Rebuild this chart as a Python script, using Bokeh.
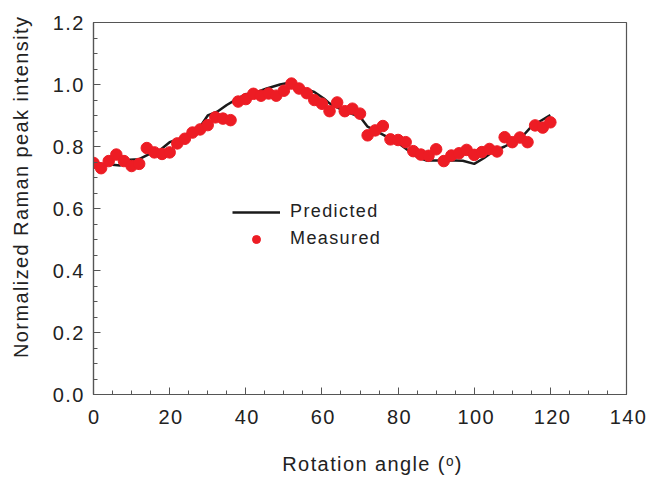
from bokeh.plotting import figure
from bokeh.models import (Range1d, Legend, LegendItem, FixedTicker, PrintfTickFormatter,
                          InlineStyleSheet)
from bokeh.embed import file_html
from bokeh.resources import INLINE

# Measured data (every 2 degrees)
meas_angle = list(range(0, 122, 2))
meas_intensity = [0.747, 0.730, 0.753, 0.774, 0.753, 0.737, 0.744, 0.795, 0.781, 0.776,
                  0.781, 0.810, 0.825, 0.845, 0.855, 0.869, 0.894, 0.890, 0.885, 0.945,
                  0.953, 0.970, 0.964, 0.971, 0.964, 0.980, 1.003, 0.987, 0.972, 0.950,
                  0.938, 0.914, 0.942, 0.914, 0.922, 0.906, 0.836, 0.852, 0.866, 0.823,
                  0.821, 0.814, 0.785, 0.774, 0.770, 0.791, 0.753, 0.771, 0.778, 0.789,
                  0.773, 0.782, 0.792, 0.784, 0.830, 0.814, 0.829, 0.814, 0.868, 0.861,
                  0.878]

# Predicted curve
pred_angle = [0, 2, 5, 7, 9.5, 12, 15, 17.5, 20, 23, 25.5, 28, 30, 32.5, 35, 37.5, 40, 43,
              45.5, 49, 51, 53, 55, 58, 60.5, 62, 65, 67.5, 70, 72, 74.5, 77, 80, 82.5, 85,
              87.5, 91, 95, 97, 100, 102.5, 105, 108, 110.5, 113, 115, 117.5, 120]
pred_intensity = [0.755, 0.743, 0.741, 0.739, 0.757, 0.759, 0.778, 0.789, 0.814, 0.827,
                  0.848, 0.864, 0.900, 0.912, 0.934, 0.952, 0.969, 0.976, 0.987, 1.000,
                  1.005, 1.004, 0.987, 0.976, 0.955, 0.939, 0.920, 0.907, 0.896, 0.864,
                  0.848, 0.832, 0.811, 0.789, 0.766, 0.755, 0.755, 0.755, 0.754, 0.744,
                  0.762, 0.784, 0.800, 0.816, 0.837, 0.864, 0.883, 0.901]

x_major = [0, 20, 40, 60, 80, 100, 120, 140]
x_minor = list(range(0, 141, 5))
y_major = [0.0, 0.2, 0.4, 0.6, 0.8, 1.0, 1.2]
y_minor = [round(i * 0.05, 2) for i in range(25)]

x_label = "Rotation angle (\u1d52)"
y_label = "Normalized Raman peak intensity"

FONT = "Liberation Sans"
TXT = "#222222"
AX = "#555555"

p = figure(frame_width=533, frame_height=372, output_backend="svg", toolbar_location=None,
           x_range=Range1d(0, 140), y_range=Range1d(0, 1.2),
           min_border_left=93, min_border_right=20, min_border_top=22, min_border_bottom=85)
p.stylesheets = [InlineStyleSheet(css=":host { letter-spacing: 1.4px; }")]
p.grid.visible = False
p.outline_line_color = AX
p.outline_line_width = 1.2

line_r = p.line(pred_angle, pred_intensity, line_color="#1a1a1a", line_width=2.5)
pts_r = p.scatter(meas_angle, meas_intensity, size=11.5, fill_color="#ED1C24",
                  line_color="#ED1C24")

p.xaxis.ticker = FixedTicker(ticks=x_major, minor_ticks=x_minor)
p.yaxis.ticker = FixedTicker(ticks=y_major, minor_ticks=y_minor)
p.yaxis.formatter = PrintfTickFormatter(format="%.1f")

for ax in (p.xaxis, p.yaxis):
    ax.axis_line_color = AX
    ax.axis_line_width = 1.2
    ax.major_tick_line_color = AX
    ax.minor_tick_line_color = AX
    ax.major_tick_out = 0
    ax.major_tick_in = 7
    ax.minor_tick_out = 0
    ax.minor_tick_in = 4
    ax.major_label_text_font = FONT
    ax.major_label_text_font_size = "20px"
    ax.major_label_text_color = TXT
    ax.axis_label_text_font = FONT
    ax.axis_label_text_font_size = "20px"
    ax.axis_label_text_font_style = "normal"
    ax.axis_label_text_color = TXT

p.xaxis.axis_label = x_label
p.yaxis.axis_label = y_label
p.xaxis.major_label_standoff = 15
p.yaxis.major_label_standoff = 13
p.xaxis.axis_label_standoff = 26
p.yaxis.axis_label_standoff = 18

legend = Legend(items=[LegendItem(label="Predicted", renderers=[line_r]),
                       LegendItem(label="Measured", renderers=[pts_r])],
                location=(139, 145), glyph_width=48, glyph_height=20, label_height=20,
                label_standoff=10, spacing=6, padding=0, margin=0,
                border_line_alpha=0, background_fill_alpha=0,
                label_text_font=FONT, label_text_font_size="18px", label_text_color=TXT)
p.add_layout(legend)

open("out.html", "w").write(file_html(p, INLINE))
